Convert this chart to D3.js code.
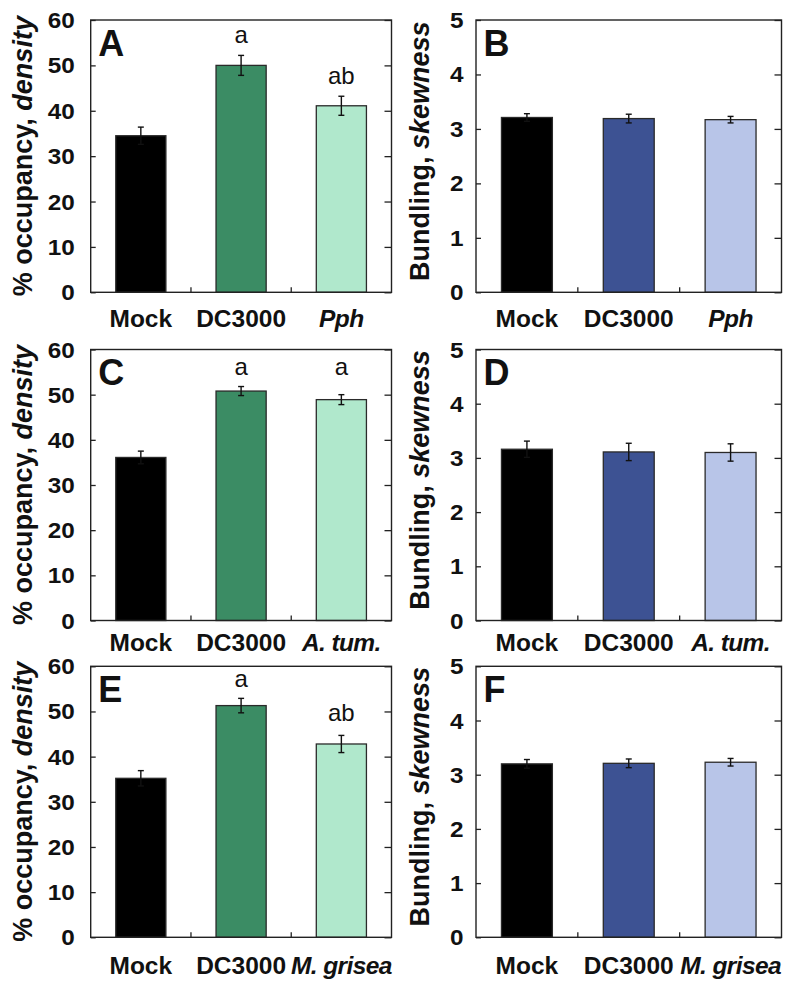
<!DOCTYPE html>
<html>
<head>
<meta charset="utf-8">
<script src="https://cdn.jsdelivr.net/npm/d3@7/dist/d3.min.js"></script>
<style>
  html, body { margin: 0; padding: 0; background: #fff; }
  svg { display: block; }
  text { font-family: "Liberation Sans", Arial, Helvetica, sans-serif; }
</style>
</head>
<body>
<svg id="chart" width="793" height="987"></svg>
<script>
// ---------- DATA ----------
const categoriesAB = ["Mock", "DC3000", "Pph"];
const categoriesCD = ["Mock", "DC3000", "A. tum."];
const categoriesEF = ["Mock", "DC3000", "M. grisea"];
const italicCategory = [false, false, true];

const densityTicks = [0, 10, 20, 30, 40, 50, 60];
const skewTicks = [0, 1, 2, 3, 4, 5];

const densityA = [34.5, 50.0, 41.1];
const densityAErr = [1.9, 2.2, 2.1];
const densityC = [36.1, 50.8, 48.9];
const densityCErr = [1.4, 1.0, 1.1];
const densityE = [35.2, 51.3, 42.8];
const densityEErr = [1.7, 1.6, 1.9];

const skewB = [3.21, 3.19, 3.17];
const skewBErr = [0.07, 0.08, 0.06];
const skewD = [3.16, 3.11, 3.10];
const skewDErr = [0.15, 0.16, 0.16];
const skewF = [3.20, 3.21, 3.23];
const skewFErr = [0.08, 0.08, 0.07];

const lettersA = ["", "a", "ab"];
const lettersAY = [null, 55.0, 46.0];
const lettersC = ["", "a", "a"];
const lettersCY = [null, 54.3, 54.3];
const lettersE = ["", "a", "ab"];
const lettersEY = [null, 55.5, 47.8];

const greenColors = ["#000000", "#3b8c64", "#b0e8cc"];
const blueColors = ["#000000", "#3d5293", "#b8c5e8"];

// ---------- LAYOUT ----------
const rows = [
  { top: 20, bottom: 292.3, labelOff: 35 },
  { top: 349.5, bottom: 620.5, labelOff: 30 },
  { top: 666.3, bottom: 937.3, labelOff: 37 }
];
const leftCol = { x0: 90.7, x1: 391.5, titleX: 31.5, titleShift: 0, tickGap: 16 };
const rightCol = { x0: 476, x1: 781.5, titleX: 428.5, titleShift: -5, tickGap: 12.5 };

const panels = [
  { id: "A", row: 0, col: leftCol, cats: categoriesAB, vals: densityA, errs: densityAErr, colors: greenColors, ticks: densityTicks, max: 60, title: ["% occupancy, ", "density"], letters: lettersA, lettersY: lettersAY },
  { id: "B", row: 0, col: rightCol, cats: categoriesAB, vals: skewB, errs: skewBErr, colors: blueColors, ticks: skewTicks, max: 5, title: ["Bundling, ", "skewness"] },
  { id: "C", row: 1, col: leftCol, cats: categoriesCD, vals: densityC, errs: densityCErr, colors: greenColors, ticks: densityTicks, max: 60, title: ["% occupancy, ", "density"], letters: lettersC, lettersY: lettersCY },
  { id: "D", row: 1, col: rightCol, cats: categoriesCD, vals: skewD, errs: skewDErr, colors: blueColors, ticks: skewTicks, max: 5, title: ["Bundling, ", "skewness"] },
  { id: "E", row: 2, col: leftCol, cats: categoriesEF, vals: densityE, errs: densityEErr, colors: greenColors, ticks: densityTicks, max: 60, title: ["% occupancy, ", "density"], letters: lettersE, lettersY: lettersEY },
  { id: "F", row: 2, col: rightCol, cats: categoriesEF, vals: skewF, errs: skewFErr, colors: blueColors, ticks: skewTicks, max: 5, title: ["Bundling, ", "skewness"] }
];

const svg = d3.select("#chart");
const frameColor = "#222";

panels.forEach(p => {
  const r = rows[p.row];
  const c = p.col;
  const x = d3.scaleBand().domain(p.cats).range([c.x0, c.x1]).paddingInner(0.5).paddingOuter(0.25);
  const y = d3.scaleLinear().domain([0, p.max]).range([r.bottom, r.top]);
  const g = svg.append("g");

  // bars
  g.selectAll("rect.bar").data(p.vals).join("rect")
    .attr("class", "bar")
    .attr("x", (d, i) => x(p.cats[i]))
    .attr("width", x.bandwidth())
    .attr("y", d => y(d))
    .attr("height", d => y(0) - y(d))
    .attr("fill", (d, i) => p.colors[i])
    .attr("stroke", "#2a2a2a")
    .attr("stroke-width", 1.3);

  // error bars
  const eb = g.selectAll("g.err").data(p.vals).join("g").attr("class", "err");
  const cx = i => x(p.cats[i]) + x.bandwidth() / 2;
  eb.append("line")
    .attr("x1", (d, i) => cx(i)).attr("x2", (d, i) => cx(i))
    .attr("y1", (d, i) => y(d - p.errs[i])).attr("y2", (d, i) => y(d + p.errs[i]))
    .attr("stroke", "#111").attr("stroke-width", 1.4);
  eb.append("line")
    .attr("x1", (d, i) => cx(i) - 3).attr("x2", (d, i) => cx(i) + 3)
    .attr("y1", (d, i) => y(d + p.errs[i])).attr("y2", (d, i) => y(d + p.errs[i]))
    .attr("stroke", "#111").attr("stroke-width", 1.4);
  eb.append("line")
    .attr("x1", (d, i) => cx(i) - 3).attr("x2", (d, i) => cx(i) + 3)
    .attr("y1", (d, i) => y(d - p.errs[i])).attr("y2", (d, i) => y(d - p.errs[i]))
    .attr("stroke", "#111").attr("stroke-width", 1.4);

  // left axis: inward ticks
  const leftAxis = d3.axisRight(y).tickValues(p.ticks).tickSize(5).tickFormat("");
  g.append("g").attr("transform", `translate(${c.x0},0)`).call(leftAxis)
    .call(a => a.select(".domain").remove())
    .call(a => a.selectAll("line").attr("stroke", frameColor).attr("stroke-width", 1.3));
  const rightAxis = d3.axisLeft(y).tickValues(p.ticks).tickSize(7).tickFormat("");
  g.append("g").attr("transform", `translate(${c.x1},0)`).call(rightAxis)
    .call(a => a.select(".domain").remove())
    .call(a => a.selectAll("line").attr("stroke", frameColor).attr("stroke-width", 1.3));

  // y tick labels
  g.selectAll("text.ytick").data(p.ticks).join("text")
    .attr("class", "ytick")
    .attr("transform", d => `translate(${c.x0 - c.tickGap},${y(d) + 8}) scale(1.08,1)`)
    .attr("text-anchor", "end")
    .attr("font-size", 22.5)
    .attr("font-weight", "bold")
    .attr("fill", "#111")
    .text(d => d);

  // bottom ticks at band boundaries
  const bounds = p.cats.slice(1).map(cat => x(cat) - x.step() * x.paddingInner() / 2);
  g.selectAll("line.btick").data(bounds).join("line")
    .attr("class", "btick")
    .attr("x1", d => d).attr("x2", d => d)
    .attr("y1", r.bottom).attr("y2", r.bottom - 5)
    .attr("stroke", frameColor).attr("stroke-width", 1.3);

  // frame
  g.append("rect")
    .attr("x", c.x0).attr("y", r.top)
    .attr("width", c.x1 - c.x0).attr("height", r.bottom - r.top)
    .attr("fill", "none").attr("stroke", frameColor).attr("stroke-width", 1.4);

  // x labels
  g.selectAll("text.xlab").data(p.cats).join("text")
    .attr("class", "xlab")
    .attr("x", (d, i) => cx(i))
    .attr("y", r.bottom + r.labelOff)
    .attr("text-anchor", "middle")
    .attr("font-size", 24.5)
    .attr("font-weight", "bold")
    .attr("font-style", (d, i) => italicCategory[i] ? "italic" : "normal")
    .attr("letter-spacing", (d, i) => italicCategory[i] ? -0.6 : 0)
    .attr("fill", "#111")
    .text(d => d);

  // panel letter
  g.append("text")
    .attr("x", c.x0 + 7.5)
    .attr("y", r.top + 35.5)
    .attr("font-size", 36)
    .attr("font-weight", "bold")
    .attr("fill", "#111")
    .text(p.id);

  // significance letters
  if (p.letters) {
    g.selectAll("text.sig").data(p.letters).join("text")
      .attr("class", "sig")
      .attr("x", (d, i) => cx(i))
      .attr("y", (d, i) => p.lettersY[i] == null ? 0 : y(p.lettersY[i]))
      .attr("text-anchor", "middle")
      .attr("font-size", 24)
      .attr("fill", "#111")
      .text(d => d);
  }

  // y title
  const cy = (r.top + r.bottom) / 2 + c.titleShift;
  const t = g.append("text")
    .attr("transform", `translate(${c.titleX},${cy}) rotate(-90)`)
    .attr("text-anchor", "middle")
    .attr("font-size", 27)
    .attr("font-weight", "bold")
    .attr("fill", "#111");
  t.append("tspan").text(p.title[0]);
  t.append("tspan").attr("font-style", "italic").text(p.title[1]);
});
</script>
</body>
</html>
